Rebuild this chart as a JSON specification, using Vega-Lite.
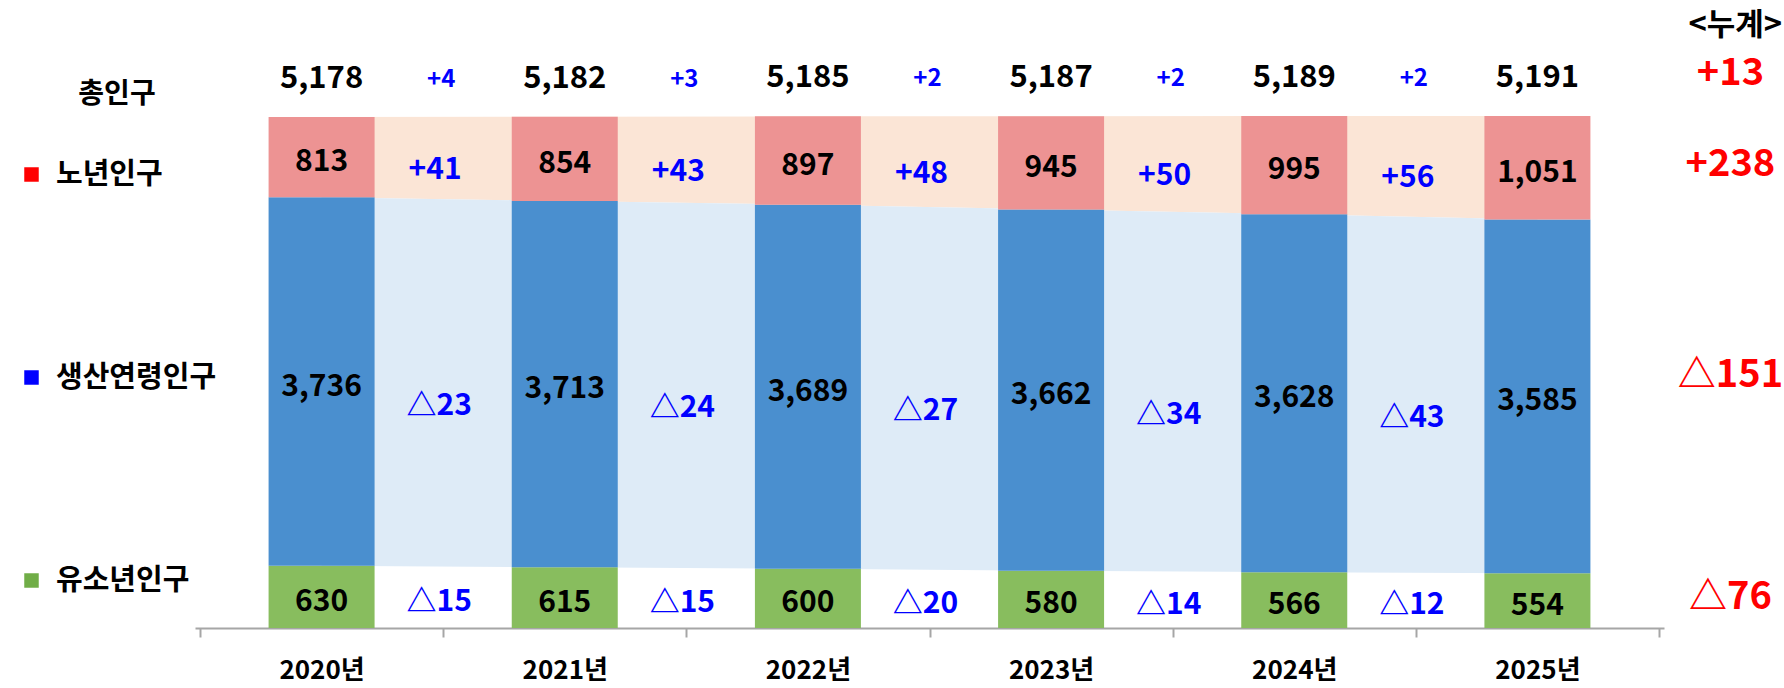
{
  "$schema": "https://vega.github.io/schema/vega-lite/v6.json",
  "width": 1469,
  "height": 592,
  "autosize": {"type": "none"},
  "padding": {"left": 195, "top": 36, "right": 120, "bottom": 60},
  "background": "white",
  "config": {"view": {"stroke": null}, "font": "Noto Sans CJK KR"},
  "title": {"text": "<누계>", "anchor": "end", "frame": "group", "dx": 118, "offset": -6, "fontSize": 31, "fontWeight": "bold", "color": "black", "font": "Noto Sans CJK KR"},
  "datasets": {
    "pop": [
      {"year": 2020, "group": "유소년인구", "order": 1, "value": 630, "chg": "△15", "cum": null},
      {"year": 2020, "group": "생산연령인구", "order": 2, "value": 3736, "chg": "△23", "cum": null},
      {"year": 2020, "group": "노년인구", "order": 3, "value": 813, "chg": "+41", "cum": null},
      {"year": 2021, "group": "유소년인구", "order": 1, "value": 615, "chg": "△15", "cum": null},
      {"year": 2021, "group": "생산연령인구", "order": 2, "value": 3713, "chg": "△24", "cum": null},
      {"year": 2021, "group": "노년인구", "order": 3, "value": 854, "chg": "+43", "cum": null},
      {"year": 2022, "group": "유소년인구", "order": 1, "value": 600, "chg": "△20", "cum": null},
      {"year": 2022, "group": "생산연령인구", "order": 2, "value": 3689, "chg": "△27", "cum": null},
      {"year": 2022, "group": "노년인구", "order": 3, "value": 897, "chg": "+48", "cum": null},
      {"year": 2023, "group": "유소년인구", "order": 1, "value": 580, "chg": "△14", "cum": null},
      {"year": 2023, "group": "생산연령인구", "order": 2, "value": 3662, "chg": "△34", "cum": null},
      {"year": 2023, "group": "노년인구", "order": 3, "value": 945, "chg": "+50", "cum": null},
      {"year": 2024, "group": "유소년인구", "order": 1, "value": 566, "chg": "△12", "cum": null},
      {"year": 2024, "group": "생산연령인구", "order": 2, "value": 3628, "chg": "△43", "cum": null},
      {"year": 2024, "group": "노년인구", "order": 3, "value": 995, "chg": "+56", "cum": null},
      {"year": 2025, "group": "유소년인구", "order": 1, "value": 554, "chg": null, "cum": "△76"},
      {"year": 2025, "group": "생산연령인구", "order": 2, "value": 3585, "chg": null, "cum": "△151"},
      {"year": 2025, "group": "노년인구", "order": 3, "value": 1051, "chg": null, "cum": "+238"}
    ],
    "total": [
      {"year": 2020, "total": 5178, "chg": "+4", "cum": null},
      {"year": 2021, "total": 5182, "chg": "+3", "cum": null},
      {"year": 2022, "total": 5185, "chg": "+2", "cum": null},
      {"year": 2023, "total": 5187, "chg": "+2", "cum": null},
      {"year": 2024, "total": 5189, "chg": "+2", "cum": null},
      {"year": 2025, "total": 5191, "chg": null, "cum": "+13"}
    ]
  },
  "layer": [
    {
      "data": {"name": "pop"},
      "transform": [
        {"stack": "value", "groupby": ["year"], "sort": [{"field": "order", "order": "ascending"}], "as": ["v0", "v1"]},
        {"fold": ["v0", "v1"], "as": ["edge", "pos"]},
        {"aggregate": [{"op": "mean", "field": "pos", "as": "mid"}, {"op": "min", "field": "pos", "as": "lo"}, {"op": "max", "field": "pos", "as": "hi"}], "groupby": ["year", "group", "order", "value", "chg", "cum"]},
        {"window": [{"op": "mean", "field": "mid", "as": "cmid"}, {"op": "mean", "field": "year", "as": "cx"}], "groupby": ["group"], "sort": [{"field": "year", "order": "ascending"}], "frame": [0, 1]}
      ],
      "layer": [
        {
          "mark": {"type": "point", "shape": "square", "filled": true, "size": 60, "opacity": 1},
          "encoding": {
            "x": {"field": "year", "type": "quantitative", "title": null, "scale": {"domain": [2019.5, 2025.5], "nice": false, "zero": false}},
            "y": {"field": "mid", "type": "quantitative", "scale": {"domain": [0, 6000], "nice": false}, "axis": null},
            "fill": {"field": "group", "type": "nominal",
              "scale": {"domain": ["노년인구", "생산연령인구", "유소년인구"], "range": ["#FF0000", "#0000FF", "#70AD47"]},
              "legend": {"title": "총인구", "orient": "none", "legendX": -178, "legendY": 45, "symbolType": "square", "symbolSize": 210, "symbolOpacity": 1, "symbolStrokeWidth": 0,
                "labelFont": "Noto Sans CJK KR", "labelFontSize": 29, "labelFontWeight": "bold", "labelColor": "black", "labelOffset": 10, "labelLimit": 0,
                "rowPadding": 173, "titleFont": "Noto Sans CJK KR", "titleFontSize": 28, "titleFontWeight": "bold", "titleColor": "black", "titleAnchor": "middle", "titlePadding": 51, "titleLimit": 0}}
          }
        },
        {
          "transform": [{"filter": "datum.group === '노년인구'"}],
          "mark": {"type": "area", "color": "#FBE5D6", "opacity": 1},
          "encoding": {
            "x": {"field": "year", "type": "quantitative", "title": null},
            "y": {"field": "lo", "type": "quantitative", "axis": null},
            "y2": {"field": "hi"}
          }
        },
        {
          "transform": [{"filter": "datum.group === '생산연령인구'"}],
          "mark": {"type": "area", "color": "#DEEBF7", "opacity": 1},
          "encoding": {
            "x": {"field": "year", "type": "quantitative", "title": null},
            "y": {"field": "lo", "type": "quantitative", "axis": null},
            "y2": {"field": "hi"}
          }
        },
        {
          "mark": {"type": "bar", "size": 106},
          "encoding": {
            "x": {"field": "year", "type": "quantitative", "title": null, "scale": {"domain": [2019.5, 2025.5], "nice": false, "zero": false},
              "axis": {"values": [2019.5, 2020, 2020.5, 2021, 2021.5, 2022, 2022.5, 2023, 2023.5, 2024, 2024.5, 2025, 2025.5],
                "labelExpr": "datum.value % 1 === 0 ? datum.value + '년' : ''", "title": null, "grid": false,
                "domainColor": "#A6A6A6", "domainWidth": 2, "tickColor": "#A6A6A6", "tickWidth": 2, "tickSize": 9,
                "tickOpacity": {"condition": {"test": "datum.value % 1 === 0", "value": 0}, "value": 1},
                "labelFont": "Noto Sans CJK KR", "labelFontSize": 26, "labelFontWeight": "bold", "labelColor": "black", "labelPadding": 20,
                "labelOverlap": false, "labelFlush": false, "labelBound": false}},
            "y": {"field": "lo", "type": "quantitative", "scale": {"domain": [0, 6000], "nice": false}, "axis": null},
            "y2": {"field": "hi"},
            "color": {"field": "group", "type": "nominal", "scale": {"domain": ["노년인구", "생산연령인구", "유소년인구"], "range": ["#ED9393", "#4A8FCF", "#88BD5E"]}, "legend": null}
          }
        },
        {
          "mark": {"type": "text", "fontSize": 30, "fontWeight": "bold", "color": "black", "dy": 5},
          "encoding": {
            "x": {"field": "year", "type": "quantitative", "title": null},
            "y": {"field": "mid", "type": "quantitative", "axis": null},
            "text": {"field": "value", "type": "quantitative", "format": ","}
          }
        },
        {
          "transform": [{"filter": "datum.chg != null && datum.group === '노년인구'"}],
          "mark": {"type": "text", "fontSize": 30, "fontWeight": "bold", "color": "#0000FF", "dx": -8, "dy": 12},
          "encoding": {
            "x": {"field": "cx", "type": "quantitative", "title": null},
            "y": {"field": "cmid", "type": "quantitative", "axis": null},
            "text": {"field": "chg", "type": "nominal"}
          }
        },
        {
          "transform": [{"filter": "datum.chg != null && datum.group === '생산연령인구'"}],
          "mark": {"type": "text", "fontSize": 30, "fontWeight": "bold", "color": "#0000FF", "dx": -4, "dy": 23},
          "encoding": {
            "x": {"field": "cx", "type": "quantitative", "title": null},
            "y": {"field": "cmid", "type": "quantitative", "axis": null},
            "text": {"field": "chg", "type": "nominal"}
          }
        },
        {
          "transform": [{"filter": "datum.chg != null && datum.group === '유소년인구'"}],
          "mark": {"type": "text", "fontSize": 30, "fontWeight": "bold", "color": "#0000FF", "dx": -4, "dy": 5},
          "encoding": {
            "x": {"field": "cx", "type": "quantitative", "title": null},
            "y": {"field": "cmid", "type": "quantitative", "axis": null},
            "text": {"field": "chg", "type": "nominal"}
          }
        },
        {
          "transform": [{"filter": "datum.cum != null && datum.group !== '생산연령인구'"}],
          "mark": {"type": "text", "fontSize": 38, "fontWeight": "bold", "color": "#FF0000", "dx": 193, "dy": -3},
          "encoding": {
            "x": {"field": "year", "type": "quantitative", "title": null},
            "y": {"field": "mid", "type": "quantitative", "axis": null},
            "text": {"field": "cum", "type": "nominal"}
          }
        },
        {
          "transform": [{"filter": "datum.cum != null && datum.group === '생산연령인구'"}],
          "mark": {"type": "text", "fontSize": 38, "fontWeight": "bold", "color": "#FF0000", "dx": 193, "dy": -20},
          "encoding": {
            "x": {"field": "year", "type": "quantitative", "title": null},
            "y": {"field": "mid", "type": "quantitative", "axis": null},
            "text": {"field": "cum", "type": "nominal"}
          }
        }
      ]
    },
    {
      "data": {"name": "total"},
      "transform": [
        {"window": [{"op": "mean", "field": "total", "as": "ty"}, {"op": "mean", "field": "year", "as": "tx"}], "sort": [{"field": "year", "order": "ascending"}], "frame": [0, 1]}
      ],
      "layer": [
        {
          "mark": {"type": "text", "fontSize": 31, "fontWeight": "bold", "color": "black", "dy": -38},
          "encoding": {
            "x": {"field": "year", "type": "quantitative", "title": null},
            "y": {"field": "total", "type": "quantitative", "axis": null},
            "text": {"field": "total", "type": "quantitative", "format": ","}
          }
        },
        {
          "transform": [{"filter": "datum.chg != null"}],
          "mark": {"type": "text", "fontSize": 24, "fontWeight": "bold", "color": "#0000FF", "dx": -2, "dy": -37},
          "encoding": {
            "x": {"field": "tx", "type": "quantitative", "title": null},
            "y": {"field": "ty", "type": "quantitative", "axis": null},
            "text": {"field": "chg", "type": "nominal"}
          }
        },
        {
          "transform": [{"filter": "datum.cum != null"}],
          "mark": {"type": "text", "fontSize": 38, "fontWeight": "bold", "color": "#FF0000", "dx": 193, "dy": -42},
          "encoding": {
            "x": {"field": "year", "type": "quantitative", "title": null},
            "y": {"field": "total", "type": "quantitative", "axis": null},
            "text": {"field": "cum", "type": "nominal"}
          }
        }
      ]
    }
  ]
}
